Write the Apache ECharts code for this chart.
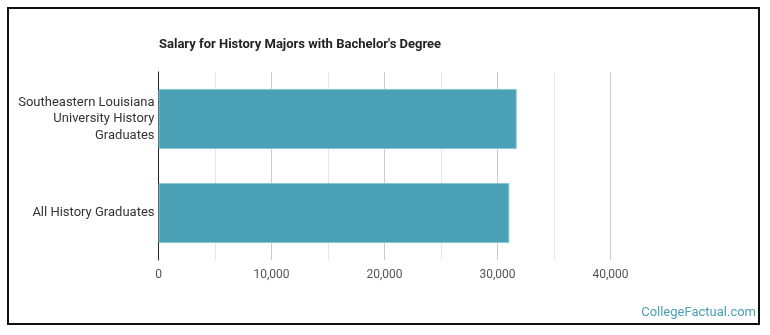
<!DOCTYPE html>
<html>
<head>
<meta charset="utf-8">
<script src="https://cdn.jsdelivr.net/npm/echarts@6/dist/echarts.min.js"></script>
<style>html,body{margin:0;padding:0;background:#fff}#c{width:770px;height:335px}</style>
</head>
<body>
<div id="c"></div>
<script>
var categories = ["Southeastern Louisiana\nUniversity History\nGraduates", "All History Graduates"];
var salaries = [31700, 31050];
var titleText = "Salary for History Majors with Bachelor's Degree";
var watermark = "CollegeFactual.com";

var chart = echarts.init(document.getElementById('c'), null, {renderer: 'canvas'});
chart.setOption({
  animation: false,
  backgroundColor: '#fff',
  title: {
    text: titleText,
    left: 154, top: 33,
    textStyle: {fontFamily: 'Roboto', fontWeight: 'bold', fontSize: 13, color: '#222'}
  },
  graphic: [
    {type: 'rect', shape: {x: 8, y: 8, width: 751, height: 316}, style: {fill: 'none', stroke: '#111', lineWidth: 2}},
    {type: 'text', right: 14, top: 306, style: {text: watermark, fill: '#4aa0b5', font: '13px Roboto'}}
  ],
  grid: {left: 158.5, right: 159.5, top: 72, bottom: 75, containLabel: false},
  xAxis: {
    type: 'value', min: 0, max: 40000, interval: 10000,
    axisLine: {show: false}, axisTick: {show: false},
    axisLabel: {color: '#555', fontFamily: 'Roboto', fontSize: 12, margin: 9,
      formatter: function (v) { return v.toLocaleString('en-US'); }},
    splitLine: {lineStyle: {color: '#ccc'}},
    minorTick: {show: false, splitNumber: 2},
    minorSplitLine: {show: true, lineStyle: {color: '#e8e8e8'}}
  },
  yAxis: {
    type: 'category', data: categories, inverse: true,
    axisLine: {show: true, lineStyle: {color: '#222', width: 1}},
    axisTick: {show: false},
    axisLabel: {color: '#333', fontFamily: 'Roboto', fontSize: 13, lineHeight: 16.5, margin: 4, align: 'right'}
  },
  series: [{
    type: 'bar', data: salaries, barCategoryGap: '36%',
    itemStyle: {color: '#4aa0b5', borderColor: '#8cc6d3', borderWidth: 1}
  }]
});
</script>
</body>
</html>
